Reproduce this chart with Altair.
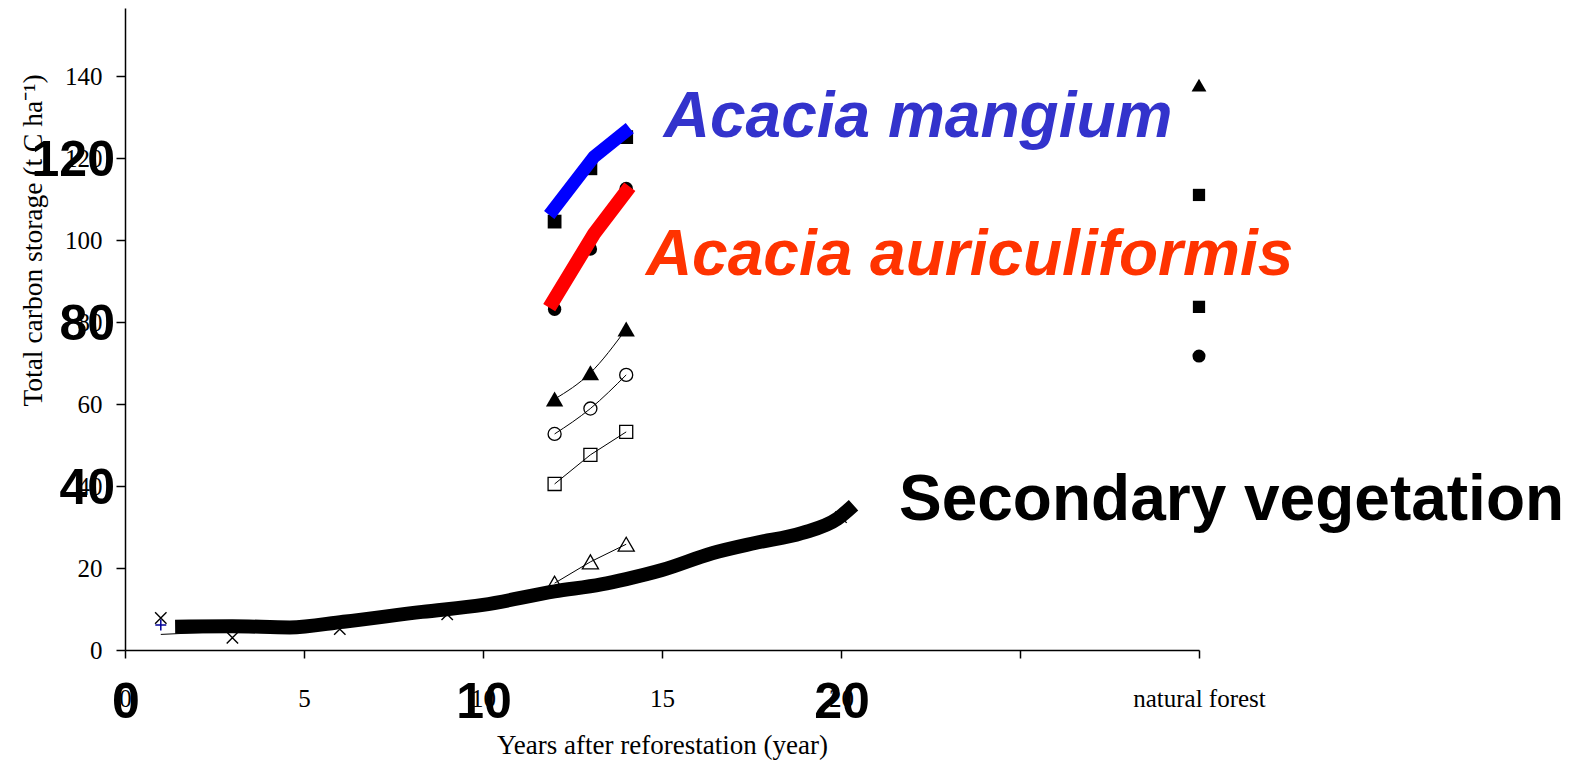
import altair as alt
import pandas as pd

# ---- data ----
sv_thick_x = [1.4, 3.0, 4.6, 6.1, 8.3, 10.0, 12.0, 13.3, 14.0, 15.0, 16.4, 17.6, 18.9, 19.9, 20.35]
sv_thick_y = [5.7, 5.8, 5.5, 6.9, 9.3, 11.0, 14.3, 16.0, 17.3, 19.5, 23.6, 26.1, 28.5, 32.0, 35.3]

sv_fit_x = [1, 3, 6, 9, 12, 15, 18, 20]
sv_fit_y = [3.8, 4.6, 6.2, 9.4, 13.6, 19.0, 26.5, 32.0]

sv_pts_x = [1, 3, 6, 9, 20]
sv_pts_y = [7.8, 3.0, 5.1, 8.7, 32.4]

plus_x = [1]
plus_y = [6.1]

plant_years = [12, 13, 14]
open_tri = [16.3, 21.5, 25.8]
open_sq = [40.5, 47.6, 53.2]
open_circ = [52.7, 58.9, 67.1]
fill_tri = [61.2, 67.6, 78.3]
fill_circ = [83.1, 97.8, 112.6]
fill_sq = [104.5, 117.5, 125.1]

red_x = [11.85, 13.1, 14.1]
red_y = [83.5, 101.5, 113.0]
blue_x = [11.85, 13.1, 14.1]
blue_y = [106.1, 120.3, 127.3]

nf_x = 30
nf_tri = [137.8]
nf_sq = [111.0, 83.7]
nf_circ = [71.7]

x_ticks = [0, 5, 10, 15, 20, 25, 30]
y_ticks = [0, 20, 40, 60, 80, 100, 120, 140]
big_x_labels = [0, 10, 20]
big_y_labels = [40, 80, 120]

labels_text = ["Acacia mangium", "Acacia auriculiformis", "Secondary vegetation"]
labels_x = [15.05, 14.55, 21.62]
labels_y = [125.1, 91.5, 31.7]
labels_color = ["#3333CC", "#FF3300", "#000000"]
labels_style = ["italic", "italic", "normal"]

# ---- scales / axes ----
xs = alt.Scale(domain=[0, 30], nice=False, zero=False)
ys = alt.Scale(domain=[0, 156.6], nice=False)

serif = "Liberation Serif"
sans = "Liberation Sans"

x_axis = alt.Axis(values=x_ticks, labelExpr="datum.value == 30 ? 'natural forest' : (datum.value == 25 ? '' : datum.label)",
                  grid=False, tickSize=8, tickColor="black", domainColor="black", domainWidth=1.5, tickWidth=1.5,
                  labelFont=serif, labelFontSize=25, labelColor="black", labelPadding=28, labelFlush=False,
                  labelOverlap=False,
                  title="Years after reforestation (year)", titleFont=serif, titleFontSize=27,
                  titleFontWeight="normal", titleColor="black", titleY=95, titleBaseline="middle")
y_axis = alt.Axis(values=y_ticks, grid=False, tickSize=9, tickColor="black", domainColor="black",
                  domainWidth=1.5, tickWidth=1.5, labelOverlap=False, labelFlush=False,
                  labelFont=serif, labelFontSize=25, labelColor="black", labelPadding=14,
                  title="Total carbon storage (t C ha⁻¹)", titleFont=serif, titleFontSize=27.5,
                  titleFontWeight="normal", titleColor="black", titleX=-92, titleY=232,
                  titleAlign="center", titleBaseline="middle")


def df(xv, yv):
    return pd.DataFrame({"x": xv, "y": yv})


def enc(chart):
    return chart.encode(x=alt.X("x:Q", scale=xs, axis=x_axis), y=alt.Y("y:Q", scale=ys, axis=y_axis))


fit_line = enc(alt.Chart(df(sv_fit_x, sv_fit_y)).mark_line(color="black", strokeWidth=1))

thin_lines = []
for vals, interp in [(open_tri, "linear"), (open_sq, "linear"), (open_circ, "monotone"), (fill_tri, "natural")]:
    thin_lines.append(enc(alt.Chart(df(plant_years, vals)).mark_line(color="black", strokeWidth=1, interpolate=interp)))

open_markers = [
    enc(alt.Chart(df(plant_years, open_tri)).mark_point(shape="triangle-up", filled=False, color="black", size=260, strokeWidth=1.3, opacity=1)),
    enc(alt.Chart(df(plant_years, open_sq)).mark_point(shape="square", filled=False, color="black", size=170, strokeWidth=1.3, opacity=1)),
    enc(alt.Chart(df(plant_years, open_circ)).mark_point(shape="circle", filled=False, color="black", size=170, strokeWidth=1.3, opacity=1)),
]

sv_x_markers = enc(alt.Chart(df(sv_pts_x, sv_pts_y)).mark_point(shape="M-1,-1L1,1M-1,1L1,-1", filled=False, color="black", size=130, strokeWidth=1.4, opacity=1))

sv_thick = enc(alt.Chart(df(sv_thick_x, sv_thick_y)).mark_line(color="black", strokeWidth=14, interpolate="monotone", strokeCap="butt"))

plus_marker = enc(alt.Chart(df(plus_x, plus_y)).mark_point(shape="M0,-1L0,1M-1,0L1,0", filled=False, color="#000099", size=120, strokeWidth=1.5, opacity=1))

filled_markers = [
    enc(alt.Chart(df(plant_years, fill_tri)).mark_point(shape="triangle-up", filled=True, color="black", size=300, opacity=1)),
    enc(alt.Chart(df(plant_years, fill_circ)).mark_point(shape="circle", filled=True, color="black", size=180, opacity=1)),
    enc(alt.Chart(df(plant_years, fill_sq)).mark_point(shape="square", filled=True, color="black", size=190, opacity=1)),
    enc(alt.Chart(df([nf_x], nf_tri)).mark_point(shape="triangle-up", filled=True, color="black", size=220, opacity=1)),
    enc(alt.Chart(df([nf_x] * len(nf_sq), nf_sq)).mark_point(shape="square", filled=True, color="black", size=150, opacity=1)),
    enc(alt.Chart(df([nf_x], nf_circ)).mark_point(shape="circle", filled=True, color="black", size=170, opacity=1)),
]

red_line = enc(alt.Chart(df(red_x, red_y)).mark_line(color="#FF0000", strokeWidth=14, strokeCap="butt"))
blue_line = enc(alt.Chart(df(blue_x, blue_y)).mark_line(color="#0000FF", strokeWidth=13, strokeCap="butt"))

big_x = enc(alt.Chart(pd.DataFrame({"x": big_x_labels, "y": [0] * len(big_x_labels), "t": [str(v) for v in big_x_labels]}))
            .mark_text(font=sans, fontWeight="bold", fontSize=50, color="black", align="center", baseline="alphabetic", dy=68, dx=1)
            ).encode(text="t:N")
big_y = enc(alt.Chart(pd.DataFrame({"x": [0] * len(big_y_labels), "y": big_y_labels, "t": [str(v) for v in big_y_labels]}))
            .mark_text(font=sans, fontWeight="bold", fontSize=50, color="black", align="right", baseline="alphabetic", dx=-10, dy=18)
            ).encode(text="t:N")

ann = []
for t, xv, yv, c, st in zip(labels_text, labels_x, labels_y, labels_color, labels_style):
    ann.append(enc(alt.Chart(pd.DataFrame({"x": [xv], "y": [yv], "t": [t]}))
                   .mark_text(font=sans, fontWeight="bold", fontStyle=st, fontSize=64, color=c, align="left", baseline="alphabetic"))
               .encode(text="t:N"))

chart = alt.layer(fit_line, *thin_lines, *open_markers, sv_x_markers, sv_thick, plus_marker,
                  *filled_markers, red_line, blue_line, big_x, big_y, *ann).properties(
    width=1074, height=642,
    padding={"left": 117, "top": 0, "right": 366, "bottom": 112},
    autosize=alt.AutoSizeParams(type="none"),
    background="white",
).configure_view(strokeWidth=0)

chart.save("out.html", embed_options={"renderer": "svg", "actions": False})
